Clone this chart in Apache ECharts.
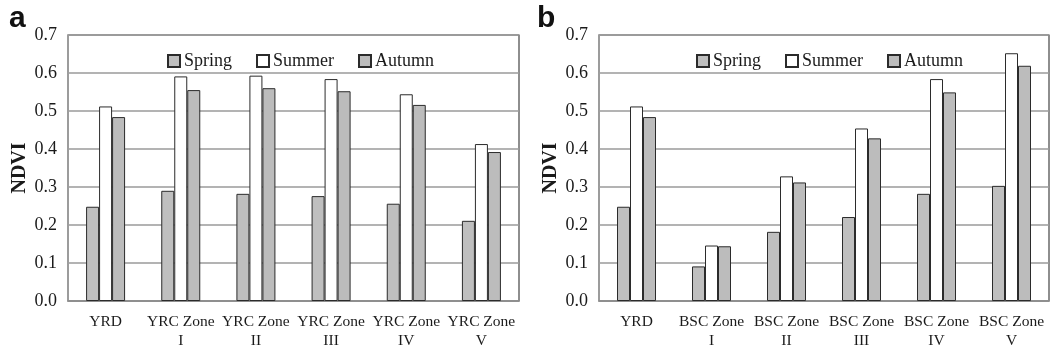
<!DOCTYPE html>
<html>
<head>
<meta charset="utf-8">
<script src="https://cdn.jsdelivr.net/npm/echarts@6/dist/echarts.min.js"></script>
<style>
html,body{margin:0;padding:0;background:#fff;}
#c{width:1050px;height:350px;}
</style>
</head>
<body>
<div id="c"></div>
<script>
const seasons = ['Spring', 'Summer', 'Autumn'];
const catsA = ['YRD', 'YRC Zone\nI', 'YRC Zone\nII', 'YRC Zone\nIII', 'YRC Zone\nIV', 'YRC Zone\nV'];
const springA = [0.248, 0.290, 0.282, 0.276, 0.256, 0.211];
const summerA = [0.512, 0.591, 0.593, 0.584, 0.544, 0.413];
const autumnA = [0.484, 0.555, 0.560, 0.552, 0.516, 0.392];
const catsB = ['YRD', 'BSC Zone\nI', 'BSC Zone\nII', 'BSC Zone\nIII', 'BSC Zone\nIV', 'BSC Zone\nV'];
const springB = [0.248, 0.091, 0.182, 0.221, 0.282, 0.303];
const summerB = [0.512, 0.146, 0.328, 0.454, 0.584, 0.652];
const autumnB = [0.484, 0.144, 0.312, 0.428, 0.549, 0.619];
const yMin = 0, yMax = 0.7, yStep = 0.1;
const panelLetters = ['a', 'b'];
const yTitle = 'NDVI';

const serif = '"Liberation Serif","Times New Roman",serif';
const fills = {Spring: '#bfbfbf', Summer: '#ffffff', Autumn: '#bcbcbc'};

function xAxis(gi, cats) {
  return {
    type: 'category', gridIndex: gi, data: cats,
    axisLine: {show: true, lineStyle: {color: '#8c8c8c', width: 1.5}},
    axisTick: {show: false},
    axisLabel: {color: '#1a1a1a', fontFamily: serif, fontSize: 15.5, lineHeight: 19, margin: 11, interval: 0}
  };
}
function yAxis(gi) {
  return {
    type: 'value', gridIndex: gi, min: yMin, max: yMax, interval: yStep,
    name: yTitle, nameLocation: 'middle', nameGap: 38, nameRotate: 90,
    nameTextStyle: {color: '#1a1a1a', fontFamily: serif, fontSize: 20, fontWeight: 'bold'},
    axisLine: {show: true, lineStyle: {color: '#a0a0a0', width: 1.5}},
    axisTick: {show: false},
    axisLabel: {color: '#1a1a1a', fontFamily: serif, fontSize: 18, margin: 11, formatter: v => v.toFixed(1)},
    splitLine: {show: true, lineStyle: {color: '#9a9a9a', width: 1.5}}
  };
}
function bars(gi, name, data) {
  return {
    type: 'bar', name: name, xAxisIndex: gi, yAxisIndex: gi, data: data,
    barWidth: 13, barGap: '0%',
    itemStyle: {color: fills[name], borderColor: '#2b2b2b', borderWidth: 1},
    emphasis: {disabled: true}
  };
}
function legend(left) {
  return {
    left: left, top: 52, padding: 0, data: seasons, itemWidth: 12, itemHeight: 12, itemGap: 24,
    icon: 'rect', selectedMode: false,
    textStyle: {color: '#1a1a1a', fontFamily: serif, fontSize: 18, padding: [0, 0, 0, -1]}
  };
}

const chart = echarts.init(document.getElementById('c'), null, {renderer: 'canvas'});
const letterStyle = {fontFamily: '"Liberation Sans",Arial,sans-serif', fontWeight: 'bold', fontSize: 30, color: '#111'};
chart.setOption({
  animation: false,
  backgroundColor: '#ffffff',
  title: [
    {text: panelLetters[0], left: 9, top: 4, padding: 0, textStyle: letterStyle},
    {text: panelLetters[1], left: 537, top: 4, padding: 0, textStyle: letterStyle}
  ],
  legend: [legend(167), legend(696)],
  grid: [
    {left: 68, top: 35, width: 451, bottom: 48, show: true, borderColor: '#444', borderWidth: 1.2, backgroundColor: 'transparent'},
    {left: 599, top: 35, width: 450, bottom: 48, show: true, borderColor: '#444', borderWidth: 1.2, backgroundColor: 'transparent'}
  ],
  xAxis: [xAxis(0, catsA), xAxis(1, catsB)],
  yAxis: [yAxis(0), yAxis(1)],
  series: [
    bars(0, 'Spring', springA), bars(0, 'Summer', summerA), bars(0, 'Autumn', autumnA),
    bars(1, 'Spring', springB), bars(1, 'Summer', summerB), bars(1, 'Autumn', autumnB)
  ]
});
</script>
</body>
</html>
